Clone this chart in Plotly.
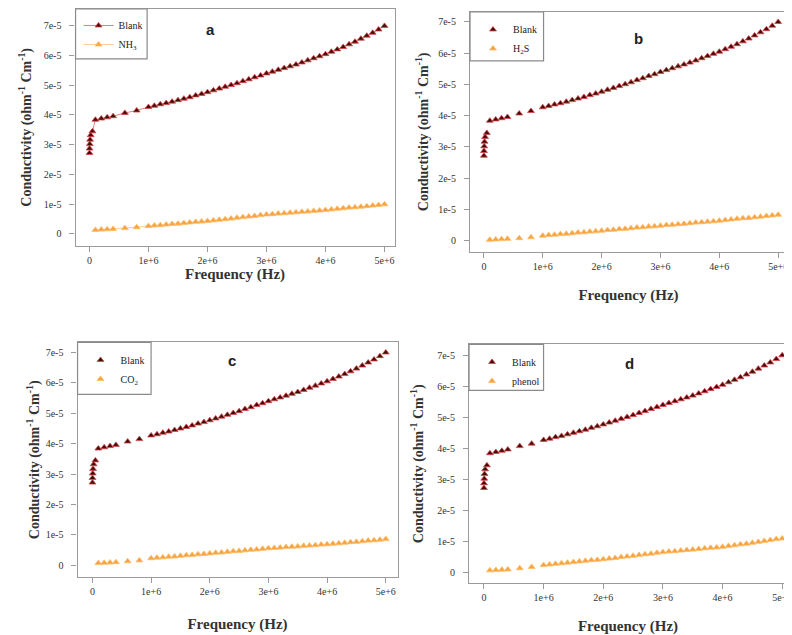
import plotly.graph_objects as go

# ---------------- data ----------------
freq_blank = [100, 1000, 5000, 10000, 20000, 50000,
              100000, 200000, 300000, 400000, 600000, 800000,
              1000000, 1100000, 1200000, 1300000, 1400000, 1500000, 1600000, 1700000, 1800000, 1900000,
              2000000, 2100000, 2200000, 2300000, 2400000, 2500000, 2600000, 2700000, 2800000, 2900000,
              3000000, 3100000, 3200000, 3300000, 3400000, 3500000, 3600000, 3700000, 3800000, 3900000,
              4000000, 4100000, 4200000, 4300000, 4400000, 4500000, 4600000, 4700000, 4800000, 4900000,
              5000000]

blank = [2.72e-5, 2.87e-5, 3.02e-5, 3.17e-5, 3.32e-5, 3.45e-5,
         3.84e-5, 3.88e-5, 3.92e-5, 3.96e-5, 4.07e-5, 4.15e-5,
         4.27e-5, 4.31e-5, 4.36e-5, 4.40e-5, 4.45e-5, 4.50e-5, 4.55e-5, 4.60e-5, 4.66e-5, 4.71e-5,
         4.77e-5, 4.83e-5, 4.89e-5, 4.95e-5, 5.01e-5, 5.07e-5, 5.14e-5, 5.20e-5, 5.27e-5, 5.33e-5,
         5.40e-5, 5.46e-5, 5.52e-5, 5.58e-5, 5.64e-5, 5.70e-5, 5.77e-5, 5.84e-5, 5.91e-5, 5.98e-5,
         6.05e-5, 6.13e-5, 6.21e-5, 6.29e-5, 6.38e-5, 6.47e-5, 6.57e-5, 6.67e-5, 6.77e-5, 6.88e-5,
         7.00e-5]

freq_gas = [100000, 200000, 300000, 400000, 600000, 800000,
            1000000, 1100000, 1200000, 1300000, 1400000, 1500000, 1600000, 1700000, 1800000, 1900000,
            2000000, 2100000, 2200000, 2300000, 2400000, 2500000, 2600000, 2700000, 2800000, 2900000,
            3000000, 3100000, 3200000, 3300000, 3400000, 3500000, 3600000, 3700000, 3800000, 3900000,
            4000000, 4100000, 4200000, 4300000, 4400000, 4500000, 4600000, 4700000, 4800000, 4900000,
            5000000]

nh3 = [0.13e-5, 0.14e-5, 0.15e-5, 0.16e-5, 0.19e-5, 0.22e-5,
       0.26e-5, 0.28e-5, 0.29e-5, 0.31e-5, 0.33e-5, 0.34e-5, 0.36e-5, 0.38e-5, 0.40e-5, 0.41e-5,
       0.43e-5, 0.45e-5, 0.47e-5, 0.49e-5, 0.51e-5, 0.54e-5, 0.56e-5, 0.58e-5, 0.60e-5, 0.63e-5,
       0.65e-5, 0.66e-5, 0.68e-5, 0.69e-5, 0.71e-5, 0.72e-5, 0.74e-5, 0.75e-5, 0.77e-5, 0.78e-5,
       0.80e-5, 0.82e-5, 0.84e-5, 0.86e-5, 0.88e-5, 0.89e-5, 0.91e-5, 0.93e-5, 0.95e-5, 0.97e-5,
       0.99e-5]

h2s = [0.03e-5, 0.04e-5, 0.05e-5, 0.06e-5, 0.08e-5, 0.11e-5,
       0.16e-5, 0.18e-5, 0.19e-5, 0.21e-5, 0.22e-5, 0.24e-5, 0.26e-5, 0.27e-5, 0.29e-5, 0.30e-5,
       0.32e-5, 0.34e-5, 0.35e-5, 0.37e-5, 0.38e-5, 0.40e-5, 0.42e-5, 0.43e-5, 0.45e-5, 0.46e-5,
       0.48e-5, 0.50e-5, 0.51e-5, 0.53e-5, 0.54e-5, 0.56e-5, 0.58e-5, 0.59e-5, 0.61e-5, 0.62e-5,
       0.64e-5, 0.66e-5, 0.68e-5, 0.70e-5, 0.72e-5, 0.73e-5, 0.75e-5, 0.77e-5, 0.79e-5, 0.81e-5,
       0.83e-5]

co2 = [0.07e-5, 0.08e-5, 0.09e-5, 0.10e-5, 0.13e-5, 0.16e-5,
       0.23e-5, 0.25e-5, 0.26e-5, 0.28e-5, 0.29e-5, 0.31e-5, 0.33e-5, 0.34e-5, 0.36e-5, 0.37e-5,
       0.39e-5, 0.41e-5, 0.42e-5, 0.44e-5, 0.46e-5, 0.47e-5, 0.49e-5, 0.51e-5, 0.52e-5, 0.54e-5,
       0.56e-5, 0.57e-5, 0.58e-5, 0.60e-5, 0.61e-5, 0.62e-5, 0.64e-5, 0.65e-5, 0.66e-5, 0.68e-5,
       0.69e-5, 0.71e-5, 0.72e-5, 0.74e-5, 0.76e-5, 0.77e-5, 0.79e-5, 0.81e-5, 0.82e-5, 0.84e-5,
       0.86e-5]

phenol = [0.06e-5, 0.07e-5, 0.08e-5, 0.09e-5, 0.13e-5, 0.17e-5,
          0.23e-5, 0.25e-5, 0.27e-5, 0.29e-5, 0.31e-5, 0.33e-5, 0.35e-5, 0.37e-5, 0.39e-5, 0.40e-5,
          0.42e-5, 0.44e-5, 0.46e-5, 0.49e-5, 0.51e-5, 0.53e-5, 0.56e-5, 0.58e-5, 0.60e-5, 0.63e-5,
          0.65e-5, 0.67e-5, 0.68e-5, 0.70e-5, 0.72e-5, 0.73e-5, 0.75e-5, 0.77e-5, 0.79e-5, 0.80e-5,
          0.82e-5, 0.85e-5, 0.87e-5, 0.90e-5, 0.92e-5, 0.95e-5, 0.98e-5, 1.01e-5, 1.04e-5, 1.07e-5,
          1.09e-5]

gas_names = ["NH<sub>3</sub>", "H<sub>2</sub>S", "CO<sub>2</sub>", "phenol"]
gas_values = [nh3, h2s, co2, phenol]
panel_letters = ["a", "b", "c", "d"]

x_tickvals = [0, 1000000, 2000000, 3000000, 4000000, 5000000]
x_ticktext = ["0", "1e+6", "2e+6", "3e+6", "4e+6", "5e+6"]
y_tickvals = [0, 1e-5, 2e-5, 3e-5, 4e-5, 5e-5, 6e-5, 7e-5]
y_ticktext = ["0", "1e-5", "2e-5", "3e-5", "4e-5", "5e-5", "6e-5", "7e-5"]

# ---------------- layout geometry (window pixels) ----------------
WIN_W, WIN_H = 792, 635
OFF = 8                      # default page body margin
W, H = WIN_W - OFF, WIN_H - OFF


def px(xp):
    return (xp - OFF) / W


def py(yp):
    return 1 - (yp - OFF) / H


frames = [(76, 397, 7, 245), (473, 792, 11, 251), (78, 400, 342, 577), (472, 792, 344, 583)]
xranges = [(-0.236e6, 5.17e6), (-0.236e6, 5.15e6), (-0.254e6, 5.2e6), (-0.25e6, 5.08e6)]
yranges = [(-0.40e-5, 7.57e-5), (-0.35e-5, 7.32e-5), (-0.39e-5, 7.33e-5), (-0.35e-5, 7.35e-5)]
xtitle_standoff = [0, 18, 22, 19]
ytitle_standoff = [8, 6, 2, 10]
letter_pos = [(212, 29), (643, 38), (233, 360), (633, 363)]
legend_boxes = [(76, 148, 7, 58), (473, 547, 11, 60), (78, 152, 342, 394), (472, 547, 344, 390)]

serif = "Liberation Serif, Times New Roman, serif"
dark = "#420c0c"
dark_edge = "#d84848"
orange = "#f5a443"
orange_edge = "#ffbb66"

fig = go.Figure()
shapes = []
annotations = []

for i in range(4):
    l, r, t, b = frames[i]
    sfx = "" if i == 0 else str(i + 1)
    xa, ya = "x" + sfx, "y" + sfx
    leg = "legend" + sfx
    mode = "lines+markers" if i == 0 else "markers"
    fig.add_trace(go.Scatter(
        x=freq_blank, y=blank, mode=mode, name="Blank",
        xaxis=xa, yaxis=ya, legend=leg,
        line=dict(color="#e0605a", width=0.8),
        marker=dict(symbol="triangle-up", size=6, color=dark,
                    line=dict(color=dark_edge, width=0.8))))
    fig.add_trace(go.Scatter(
        x=freq_gas, y=gas_values[i], mode=mode, name=gas_names[i],
        xaxis=xa, yaxis=ya, legend=leg,
        line=dict(color="#ffc080", width=0.8),
        marker=dict(symbol="triangle-up", size=6, color=orange,
                    line=dict(color=orange_edge, width=0.8))))

    common = dict(showline=True, linecolor="#9a9a9a", linewidth=1.2, mirror=True,
                  showgrid=False, zeroline=False, ticks="outside", ticklen=5,
                  tickcolor="#9a9a9a", tickfont=dict(family=serif, size=10, color="#333333"))
    fig.layout["xaxis" + sfx] = dict(
        domain=[px(l), min(px(r), 1.0)], anchor=ya, range=list(xranges[i]),
        tickvals=x_tickvals, ticktext=x_ticktext, ticklabeloverflow="allow",
        title=dict(text="<b>Frequency (Hz)</b>", font=dict(family=serif, size=15, color="#333333"),
                   standoff=xtitle_standoff[i]),
        **common)
    fig.layout["yaxis" + sfx] = dict(
        domain=[py(b), min(py(t), 1.0)], anchor=xa, range=list(yranges[i]),
        tickvals=y_tickvals, ticktext=y_ticktext, ticklabelstandoff=6,
        title=dict(text="<b>Conductivity (ohm<sup>-1</sup> Cm<sup>-1</sup>)</b>",
                   font=dict(family=serif, size=14, color="#333333"),
                   standoff=ytitle_standoff[i]),
        **common)

    bl, br, bt, bb = legend_boxes[i]
    shapes.append(dict(type="rect", xref="paper", yref="paper",
                       x0=px(bl), x1=min(px(br), 1.0), y0=py(bb), y1=min(py(bt), 1.0),
                       line=dict(color="#8a8a8a", width=1.2), fillcolor="rgba(0,0,0,0)"))
    fig.layout[leg] = dict(x=px(bl + 3), y=min(py(bt + 3), 1.0), xanchor="left", yanchor="top",
                           bgcolor="rgba(0,0,0,0)", borderwidth=0,
                           font=dict(family=serif, size=10, color="#222222"),
                           itemwidth=30, tracegroupgap=0)

    lx, ly = letter_pos[i]
    annotations.append(dict(x=px(lx), y=py(ly), xref="paper", yref="paper",
                            xanchor="center", yanchor="middle",
                            text="<b>" + panel_letters[i] + "</b>", showarrow=False,
                            font=dict(family="Liberation Sans", size=15, color="#222222")))

fig.update_layout(width=W, height=H, margin=dict(l=0, r=0, t=0, b=0),
                  paper_bgcolor="white", plot_bgcolor="white",
                  shapes=shapes, annotations=annotations, showlegend=True)

fig.write_html("out.html")
